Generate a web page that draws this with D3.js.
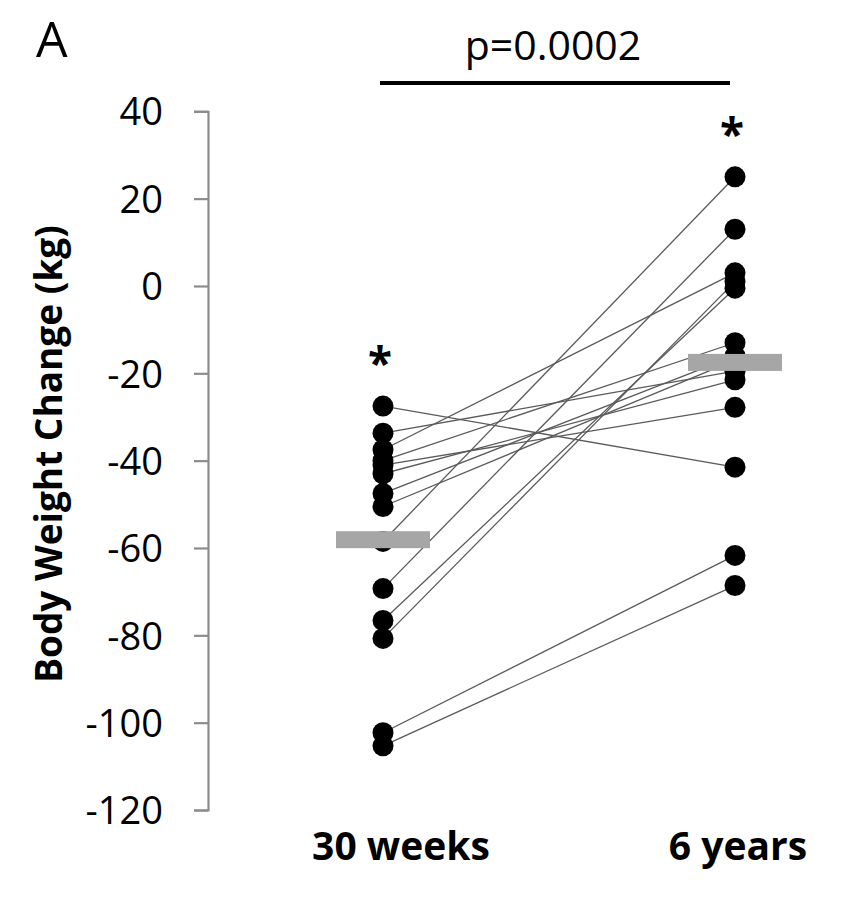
<!DOCTYPE html>
<html>
<head>
<meta charset="utf-8">
<script src="https://cdn.jsdelivr.net/npm/d3@7/dist/d3.min.js"></script>
<style>
  html, body { margin: 0; padding: 0; background: #fff; }
  svg { display: block; }
  text { font-family: "Open Sans", "DejaVu Sans", sans-serif; fill: #000; }
</style>
</head>
<body>
<svg id="chart" width="862" height="913"></svg>
<script>
// ---- data ----
const categories = ["30 weeks", "6 years"];
const week30 = [-27.5, -33.7, -37.5, -40.0, -41.0, -43.0, -47.5, -50.5, -58.5, -69.3, -76.6, -80.7, -102.3, -105.3];
const year6  = [-41.5, -19.5,   3.0, -13.0, -27.8, -21.5, -16.0, -17.0,  25.0,  13.0,  -0.5,   1.0,  -61.7,  -68.6];
const yTicks = [40, 20, 0, -20, -40, -60, -80, -100, -120];
const pLabel = "p=0.0002";
const panelLabel = "A";
const yTitle = "Body Weight Change (kg)";

// ---- layout ----
const svg = d3.select("#chart");
const y = d3.scaleLinear().domain([-120, 40]).range([810, 111.3]);
const x = d3.scalePoint().domain(categories).range([383, 735]);
const axisX = 208;

// axis
const axis = d3.axisLeft(y).tickValues(yTicks).tickSize(14).tickPadding(31).tickFormat(d => String(d));
const gAxis = svg.append("g").attr("transform", `translate(${axisX},0)`).call(axis);
gAxis.select(".domain").attr("stroke", "#8c8c8c").attr("stroke-width", 2.2);
gAxis.selectAll(".tick line").attr("stroke", "#8c8c8c").attr("stroke-width", 2.2);
gAxis.selectAll(".tick text")
  .attr("font-family", "'Open Sans', sans-serif")
  .attr("font-size", 38).attr("fill", "#000").attr("dy", "0.36em");

// y title
svg.append("text")
  .attr("transform", `translate(62,${y(-38.5)}) rotate(-90)`)
  .attr("text-anchor", "middle")
  .attr("font-size", 37).attr("font-weight", "bold")
  .text(yTitle);

// panel label
svg.append("text").attr("x", 36).attr("y", 57).attr("font-size", 50).text(panelLabel);

// paired lines
const pairs = week30.map((v, i) => [v, year6[i]]);
svg.append("g").selectAll("line").data(pairs).join("line")
  .attr("x1", x(categories[0])).attr("x2", x(categories[1]))
  .attr("y1", d => y(d[0])).attr("y2", d => y(d[1]))
  .attr("stroke", "#5a5a5a").attr("stroke-width", 1.3);

// dots
const series = [week30, year6];
series.forEach((vals, k) => {
  svg.append("g").selectAll("circle").data(vals).join("circle")
    .attr("cx", x(categories[k])).attr("cy", d => y(d))
    .attr("r", 10.5).attr("fill", "#000");
});

// mean bars
const means = series.map(s => d3.mean(s));
svg.append("g").selectAll("rect").data(means).join("rect")
  .attr("x", (d, i) => x(categories[i]) - 47)
  .attr("width", 94)
  .attr("y", d => y(d) - 8.5)
  .attr("height", 17)
  .attr("fill", "#a6a6a6");

// asterisks above highest point
series.forEach((vals, k) => {
  svg.append("text")
    .attr("x", x(categories[k]) - 3).attr("y", y(d3.max(vals)) - 27)
    .attr("text-anchor", "middle").attr("font-size", 44).attr("font-weight", "bold")
    .text("*");
});

// significance bracket
svg.append("line")
  .attr("x1", x(categories[0]) - 3).attr("x2", x(categories[1]) - 5)
  .attr("y1", 83).attr("y2", 83)
  .attr("stroke", "#000").attr("stroke-width", 4);
svg.append("text")
  .attr("x", (x(categories[0]) + x(categories[1])) / 2 - 6).attr("y", 60)
  .attr("text-anchor", "middle").attr("font-size", 41)
  .text(pLabel);

// x category labels
const labelShift = [18, 3];
svg.append("g").selectAll("text").data(categories).join("text")
  .attr("x", (d, i) => x(d) + labelShift[i]).attr("y", 860)
  .attr("text-anchor", "middle").attr("font-size", 39).attr("font-weight", "bold")
  .text(d => d);
</script>
</body>
</html>
